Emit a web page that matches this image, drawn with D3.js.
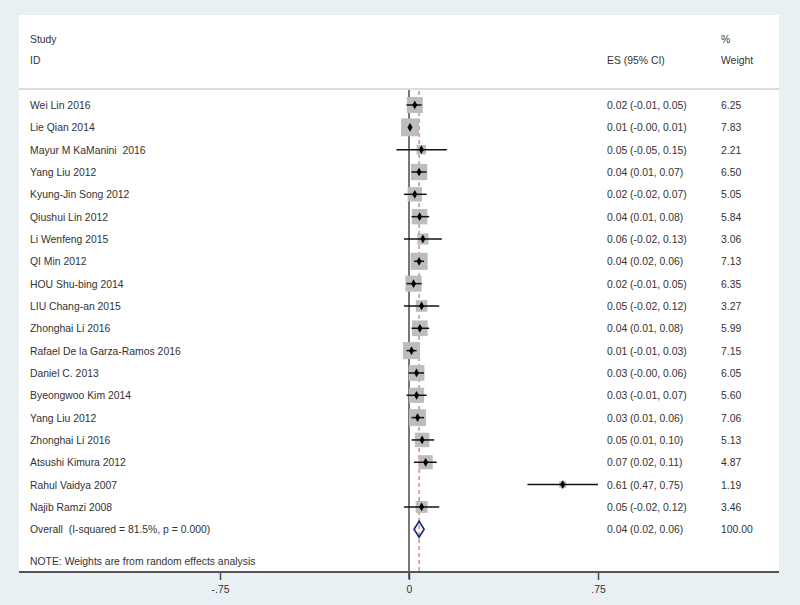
<!DOCTYPE html>
<html><head><meta charset="utf-8">
<script src="https://cdn.jsdelivr.net/npm/d3@7"></script>
<style>body{margin:0;background:#e8f0f4;}svg{display:block;}text{white-space:pre;}</style>
</head><body>
<svg id="c" width="800" height="605"></svg>
<script>
const studies = ["Wei Lin 2016","Lie Qian 2014","Mayur M KaManini  2016","Yang Liu 2012","Kyung-Jin Song 2012","Qiushui Lin 2012","Li Wenfeng 2015","QI Min 2012","HOU Shu-bing 2014","LIU Chang-an 2015","Zhonghai Li 2016","Rafael De la Garza-Ramos 2016","Daniel C. 2013","Byeongwoo Kim 2014","Yang Liu 2012","Zhonghai Li 2016","Atsushi Kimura 2012","Rahul Vaidya 2007","Najib Ramzi 2008"];
const es    = [0.023,0.004,0.049,0.04,0.023,0.042,0.055,0.04,0.018,0.05,0.043,0.01,0.03,0.03,0.034,0.052,0.066,0.61,0.05];
const lower = [-0.01,-0.002,-0.05,0.01,-0.02,0.01,-0.02,0.02,-0.01,-0.02,0.01,-0.01,-0.002,-0.01,0.01,0.01,0.02,0.47,-0.02];
const upper = [0.05,0.01,0.15,0.07,0.07,0.08,0.13,0.06,0.05,0.12,0.08,0.03,0.06,0.07,0.06,0.10,0.11,0.75,0.12];
const esText = ["0.02 (-0.01, 0.05)","0.01 (-0.00, 0.01)","0.05 (-0.05, 0.15)","0.04 (0.01, 0.07)","0.02 (-0.02, 0.07)","0.04 (0.01, 0.08)","0.06 (-0.02, 0.13)","0.04 (0.02, 0.06)","0.02 (-0.01, 0.05)","0.05 (-0.02, 0.12)","0.04 (0.01, 0.08)","0.01 (-0.01, 0.03)","0.03 (-0.00, 0.06)","0.03 (-0.01, 0.07)","0.03 (0.01, 0.06)","0.05 (0.01, 0.10)","0.07 (0.02, 0.11)","0.61 (0.47, 0.75)","0.05 (-0.02, 0.12)"];
const weights = [6.25,7.83,2.21,6.50,5.05,5.84,3.06,7.13,6.35,3.27,5.99,7.15,6.05,5.60,7.06,5.13,4.87,1.19,3.46];
const overallLabel = "Overall  (I-squared = 81.5%, p = 0.000)";
const overall = {es:0.04, lo:0.02, hi:0.06, text:"0.04 (0.02, 0.06)", weight:"100.00"};
const note = "NOTE: Weights are from random effects analysis";
const tickValues = [-0.75, 0, 0.75];
const tickLabels = ["-.75", "0", ".75"];

const svg = d3.select("#c");
const font = "Liberation Sans, Arial, sans-serif";
const fs = 10.4;
const txt = "#333";
const panel = {l:19, r:779, t:15, b:572};

svg.append("rect").attr("width",800).attr("height",605).attr("fill","#e8f0f4");
svg.append("rect").attr("x",panel.l).attr("y",panel.t).attr("width",panel.r-panel.l).attr("height",panel.b-panel.t).attr("fill","#fff");

const x = d3.scaleLinear().domain([-0.75,0.75]).range([220,598]);
const y = d3.scaleLinear().domain([0,1]).range([105,127.33]);
const nStudies = studies.length;

function text(t, xx, yy, anchor, parent){
  return (parent||svg).append("text").attr("x",xx).attr("y",yy).attr("font-family",font).attr("font-size",fs)
    .attr("fill",txt).attr("text-anchor",anchor||"start").attr("xml:space","preserve").text(t);
}
// headers
text("Study",30,43); text("ID",30,64);
text("ES (95% CI)",607,64); text("%",721,43); text("Weight",721,64);
svg.append("line").attr("x1",panel.l).attr("x2",panel.r).attr("y1",89).attr("y2",89).attr("stroke","#b8b8b8").attr("stroke-width",1);

// zero line
svg.append("line").attr("x1",x(0)).attr("x2",x(0)).attr("y1",90).attr("y2",panel.b+7).attr("stroke","#4a4a4a").attr("stroke-width",1.5);
// overall dashed
svg.append("line").attr("x1",x(overall.es)).attr("x2",x(overall.es)).attr("y1",91).attr("y2",panel.b)
  .attr("stroke","#c0504d").attr("stroke-width",1).attr("stroke-dasharray","4,3");

const sizeK = 6.4;
const rows = svg.append("g").selectAll("g").data(studies).join("g");
rows.each(function(name,i){
  const g = d3.select(this), cy = y(i);
  const s = sizeK*Math.sqrt(weights[i]);
  g.append("rect").attr("x",x(es[i])-s/2).attr("y",cy-s/2).attr("width",s).attr("height",s).attr("fill","#bdbdbd");
  g.append("line").attr("x1",x(lower[i])).attr("x2",x(upper[i])).attr("y1",cy).attr("y2",cy).attr("stroke","#111").attr("stroke-width",1.5);
  g.append("path").attr("d",d3.symbol(d3.symbolDiamond,22)()).attr("transform",`translate(${x(es[i])},${cy})`).attr("fill","#000");
  text(name,30,cy+4,"start",g);
  text(esText[i],607,cy+4,"start",g);
  text(weights[i].toFixed(2),721,cy+4,"start",g);
});

// overall
const oy = y(nStudies);
text(overallLabel,30,oy+4);
text(overall.text,607,oy+4);
text(overall.weight,721,oy+4);
svg.append("path").attr("d",`M${x(overall.lo)},${oy} L${x(overall.es)},${oy-8} L${x(overall.hi)},${oy} L${x(overall.es)},${oy+8} Z`)
  .attr("fill","none").attr("stroke","#1a237e").attr("stroke-width",1.6);

text(note,30,565);

// axis
const axis = d3.axisBottom(x).tickValues(tickValues).tickFormat((d,i)=>tickLabels[i]).tickSize(8).tickPadding(6);
const ax = svg.append("g").attr("transform",`translate(0,${panel.b})`).call(axis);
ax.select(".domain").remove();
ax.selectAll(".tick line").attr("stroke","#4a4a4a").attr("stroke-width",1.5);
ax.selectAll(".tick text").attr("font-family",font).attr("font-size",fs).attr("fill",txt);
svg.append("line").attr("x1",panel.l).attr("x2",panel.r).attr("y1",panel.b).attr("y2",panel.b).attr("stroke","#555").attr("stroke-width",2);
</script>
</body></html>
